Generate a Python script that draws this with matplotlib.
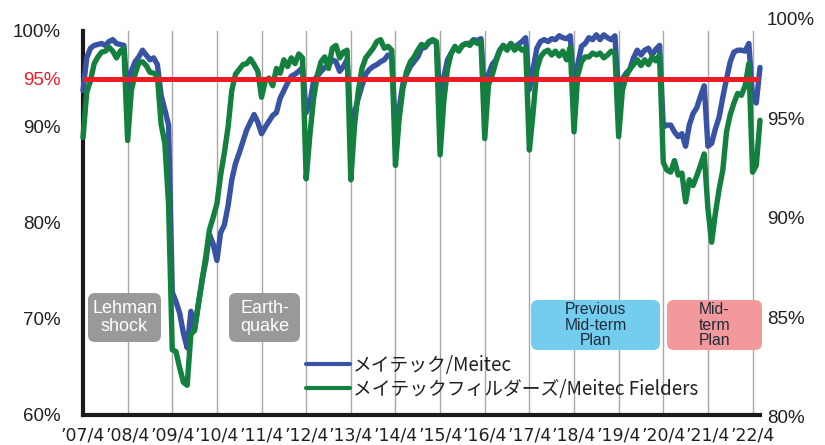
import matplotlib
matplotlib.use('Agg')
import matplotlib.pyplot as plt
from matplotlib import font_manager
from matplotlib.patches import FancyBboxPatch
import numpy as np

# monthly utilisation rate (%), April 2007 .. June 2022, one row per fiscal year
meitec = [
    93.8, 97.2, 98.2, 98.5, 98.6, 98.7, 98.5, 98.9, 99.1, 98.7, 98.6, 98.5,
    93.0, 95.8, 96.8, 97.3, 98.0, 97.5, 97.0, 97.2, 96.5, 93.3, 91.8, 90.2,
    72.8, 71.8, 70.6, 68.5, 67.0, 70.8, 69.0, 71.5, 74.0, 76.0, 78.8, 77.8,
    76.1, 79.0, 79.8, 81.8, 84.5, 86.2, 87.3, 88.5, 89.7, 90.5, 91.3, 90.5,
    89.3, 90.0, 90.6, 91.2, 91.5, 93.0, 93.8, 94.6, 95.3, 95.5, 95.8, 96.2,
    91.5, 92.5, 94.8, 95.3, 95.8, 96.2, 96.4, 97.0, 96.8, 95.8, 96.3, 97.0,
    90.0, 91.5, 93.0, 94.3, 95.5, 96.0, 96.3, 96.5, 96.8, 97.0, 97.5, 97.3,
    89.5, 92.0, 94.5, 95.5, 96.3, 96.8, 97.3, 98.2, 98.3, 98.8, 99.0, 98.8,
    92.5, 95.2, 97.0, 97.7, 98.3, 98.0, 98.5, 98.7, 98.7, 99.1, 99.0, 99.2,
    92.8, 95.5, 96.5, 97.0, 98.0, 98.5, 98.1, 98.7, 98.3, 98.6, 98.9, 99.3,
    93.9, 96.0, 98.2, 98.9, 99.1, 98.9, 99.2, 99.1, 99.5, 99.3, 99.2, 99.5,
    93.5, 96.5, 98.4, 98.7, 99.3, 99.1, 99.6, 99.1, 99.6, 99.3, 99.1, 99.5,
    93.0, 95.0, 95.6, 96.0, 97.2, 98.0, 97.5, 98.0, 98.2, 97.5, 98.1, 98.5,
    90.0, 90.2, 90.2, 89.5, 89.0, 89.3, 88.0, 90.2, 91.4, 92.0, 93.2, 94.3,
    88.0, 88.3, 89.8, 91.0, 93.1, 95.0, 96.8, 97.8, 98.0, 98.0, 97.9, 98.7,
    93.0, 92.5, 96.2,
]
fielders = [
    88.9, 93.6, 94.8, 96.6, 97.3, 97.8, 97.9, 98.3, 97.9, 97.2, 97.9, 98.2,
    88.6, 93.8, 95.5, 96.7, 96.8, 96.4, 95.7, 95.6, 95.3, 90.3, 88.3, 82.0,
    66.8, 66.6, 64.9, 63.4, 63.1, 68.4, 68.8, 71.5, 74.0, 76.5, 79.3, 80.6,
    82.0, 85.0, 87.3, 90.0, 93.8, 95.5, 96.0, 96.5, 96.6, 97.1, 96.5, 95.8,
    93.1, 94.8, 95.1, 94.3, 96.1, 95.6, 97.0, 96.3, 97.2, 96.6, 97.6, 97.2,
    84.6, 89.2, 93.0, 95.4, 96.8, 97.3, 96.1, 98.2, 98.5, 97.2, 97.8, 98.0,
    84.5, 90.2, 93.7, 96.1, 97.2, 97.7, 98.2, 98.9, 99.1, 98.2, 98.4, 98.0,
    86.0, 90.9, 94.0, 95.8, 96.8, 97.3, 98.0, 98.6, 98.4, 98.9, 99.1, 98.9,
    87.1, 92.7, 96.1, 97.7, 98.4, 97.9, 98.5, 98.7, 98.5, 99.0, 98.7, 98.9,
    88.8, 94.4, 95.4, 96.8, 97.9, 98.5, 98.0, 98.7, 98.0, 98.4, 98.0, 98.2,
    87.6, 91.5, 96.0, 97.3, 97.8, 98.0, 97.5, 97.9, 97.4, 97.9, 97.0, 98.3,
    89.5, 95.4, 96.8, 97.3, 97.3, 97.7, 97.5, 97.7, 97.2, 97.5, 97.9, 97.7,
    89.0, 93.8, 95.3, 96.0, 96.5, 97.0, 96.4, 97.0, 96.5, 97.3, 96.9, 97.5,
    86.3, 85.5, 85.3, 86.5, 85.0, 85.2, 82.2, 84.5, 83.9, 84.9, 86.0, 87.2,
    81.5, 78.0, 81.0, 83.5, 85.5, 89.5, 91.3, 92.5, 93.5, 93.3, 94.3, 96.6,
    85.3, 86.0, 90.7,
]
year_labels = ["’07/4", "’08/4", "’09/4", "’10/4", "’11/4", "’12/4", "’13/4", "’14/4",
               "’15/4", "’16/4", "’17/4", "’18/4", "’19/4", "’20/4", "’21/4", "’22/4"]
left_ticks = [60, 70, 80, 90, 95, 100]
right_ticks = [80, 85, 90, 95, 100]
target = 95

BLUE = '#3953a4'
GREEN = '#13803f'
RED = '#ed1c24'
INK = '#231f20'

names = {f.name for f in font_manager.fontManager.ttflist}
narrow = 'Liberation Sans Narrow' if 'Liberation Sans Narrow' in names else 'DejaVu Sans'
narrow_size = 15.5 if narrow == 'Liberation Sans Narrow' else 12.5
plt.rcParams['font.family'] = ['Liberation Sans', 'DejaVu Sans']

W, H = 825, 445
fig = plt.figure(figsize=(W / 100, H / 100), dpi=100)
ax = fig.add_axes([83 / W, (H - 415) / H, (760 - 83) / W, (415 - 31) / H])

months = np.arange(len(meitec))
ticks = np.arange(len(year_labels)) * 12

for t in ticks[1:]:
    ax.axvline(t, color='#a8a8a8', lw=1.0, zorder=1)

ax.plot(months, meitec, color=BLUE, lw=3.9, solid_joinstyle='round',
        solid_capstyle='round', zorder=3, clip_on=False, label='メイテック/Meitec')
ax.plot(months, fielders, color=GREEN, lw=3.9, solid_joinstyle='round',
        solid_capstyle='round', zorder=3.1, clip_on=False,
        label='メイテックフィルダーズ/Meitec Fielders')
ax.axhline(target, color=RED, lw=3.6, zorder=4)

ax.set_xlim(0, 182)
ax.set_ylim(60, 100)
ax.set_xticks(ticks, labels=year_labels)
ax.set_yticks(left_ticks, labels=[f'{v}%' for v in left_ticks])
ax.tick_params(axis='y', length=0, pad=16, labelsize=13.5, labelcolor=INK)
ax.tick_params(axis='x', length=0, pad=8, labelcolor=INK)
for lab in ax.get_xticklabels():
    lab.set_fontfamily(narrow)
    lab.set_fontsize(narrow_size)
for lab, v in zip(ax.get_yticklabels(), left_ticks):
    if v == target:
        lab.set_color(RED)

for side in ('top', 'right'):
    ax.spines[side].set_visible(False)
for side in ('left', 'bottom'):
    ax.spines[side].set_linewidth(3.0)
    ax.spines[side].set_color('#1a1a1a')
    ax.spines[side].set_zorder(2)

# right-hand scale
axr = fig.add_axes([83 / W, (H - 417) / H, (760 - 83) / W, (417 - 19) / H])
axr.patch.set_visible(False)
for s in axr.spines.values():
    s.set_visible(False)
axr.set_xticks([])
axr.set_ylim(80, 100)
axr.yaxis.tick_right()
axr.set_yticks(right_ticks, labels=[f'{v}%' for v in right_ticks])
axr.tick_params(axis='y', length=0, pad=5, labelsize=13.5, labelcolor=INK)

# period labels
def tag(x0, y0, x1, y1, color, text, tcolor, size, spacing):
    box = FancyBboxPatch((x0 / 100, (H - y1) / 100), (x1 - x0) / 100, (y1 - y0) / 100,
                         boxstyle='round,pad=0,rounding_size=0.07',
                         transform=fig.dpi_scale_trans, facecolor=color,
                         edgecolor='none', zorder=2)
    fig.add_artist(box)
    fig.text((x0 + x1) / 200, (H - (y0 + y1) / 2) / 100, text,
             transform=fig.dpi_scale_trans, ha='center', va='center',
             color=tcolor, fontsize=size, linespacing=spacing, zorder=3)

tag(88, 293, 161, 342, '#999999', 'Lehman\nshock', 'white', 13, 1.15)
tag(229, 293, 300, 342, '#999999', 'Earth-\nquake', 'white', 13, 1.15)
tag(531, 300, 660, 350, '#72cdef', 'Previous\nMid-term\nPlan', '#1e2b38', 11.3, 1.05)
tag(667, 300, 762, 350, '#f4999b', 'Mid-\nterm\nPlan', '#1e2b38', 11.3, 1.05)

leg = ax.legend(loc='upper left', bbox_to_anchor=(306 / W, 1 - 355 / H),
                bbox_transform=fig.transFigure, frameon=False,
                prop={'family': ['Noto Sans CJK JP', 'DejaVu Sans'], 'size': 13.5},
                handlelength=2.35, handletextpad=0.15, labelspacing=0.15,
                borderpad=0, borderaxespad=0)
for line in leg.get_lines():
    line.set_linewidth(3.0)
for txt in leg.get_texts():
    txt.set_color(INK)

fig.savefig('out.png', dpi=100)
